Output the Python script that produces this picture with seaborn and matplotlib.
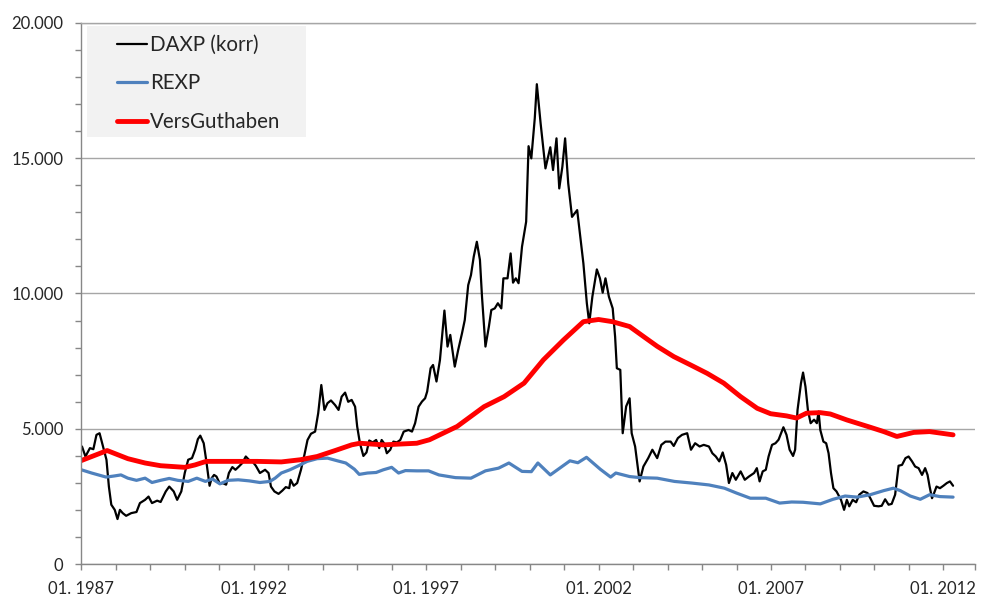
import numpy as np
import pandas as pd
import matplotlib
matplotlib.use("Agg")
import matplotlib.pyplot as plt
from matplotlib.patches import Rectangle
from matplotlib.ticker import FuncFormatter, MultipleLocator, FixedLocator
import seaborn as sns

# ── data ─────────────────────────────────────────────────────────────────────
daxp_year = [
    1987.02, 1987.12, 1987.25, 1987.35, 1987.44, 1987.53, 1987.63, 1987.73, 1987.80, 1987.87,
    1987.97, 1988.05, 1988.12, 1988.20, 1988.30, 1988.45, 1988.60, 1988.70, 1988.85, 1988.95,
    1989.05, 1989.20, 1989.30, 1989.45, 1989.55, 1989.68, 1989.78, 1989.90, 1990.00, 1990.10,
    1990.21, 1990.30, 1990.38, 1990.45, 1990.55, 1990.62, 1990.72, 1990.78, 1990.85, 1990.92,
    1991.02, 1991.10, 1991.20, 1991.28, 1991.38, 1991.47, 1991.57, 1991.67, 1991.77, 1991.86,
    1991.96, 1992.06, 1992.18, 1992.33, 1992.43, 1992.50, 1992.60, 1992.72, 1992.83, 1992.93,
    1993.03, 1993.07, 1993.16, 1993.26, 1993.37, 1993.47, 1993.56, 1993.66, 1993.78, 1993.82,
    1993.87, 1993.96, 1994.05, 1994.14, 1994.24, 1994.36, 1994.46, 1994.55, 1994.65, 1994.74,
    1994.84, 1994.94, 1995.00, 1995.08, 1995.18, 1995.27, 1995.35, 1995.45, 1995.55, 1995.64,
    1995.71, 1995.78, 1995.86, 1995.96, 1996.05, 1996.15, 1996.25, 1996.35, 1996.49, 1996.59,
    1996.68, 1996.78, 1996.88, 1996.97, 1997.03, 1997.13, 1997.20, 1997.30, 1997.40, 1997.53,
    1997.62, 1997.70, 1997.83, 1997.93, 1998.04, 1998.12, 1998.22, 1998.30, 1998.38, 1998.47,
    1998.56, 1998.62, 1998.72, 1998.82, 1998.89, 1998.99, 1999.08, 1999.18, 1999.24, 1999.36,
    1999.45, 1999.52, 1999.60, 1999.68, 1999.78, 1999.90, 1999.97, 2000.05, 2000.15, 2000.21,
    2000.32, 2000.46, 2000.60, 2000.68, 2000.78, 2000.86, 2000.95, 2001.03, 2001.12, 2001.23,
    2001.38, 2001.47, 2001.56, 2001.66, 2001.73, 2001.82, 2001.95, 2002.04, 2002.12, 2002.20,
    2002.30, 2002.41, 2002.48, 2002.53, 2002.63, 2002.70, 2002.80, 2002.90, 2002.96, 2003.06,
    2003.19, 2003.30, 2003.44, 2003.56, 2003.70, 2003.82, 2003.94, 2004.09, 2004.18, 2004.30,
    2004.42, 2004.57, 2004.68, 2004.80, 2004.93, 2005.05, 2005.20, 2005.30, 2005.40, 2005.50,
    2005.60, 2005.70, 2005.78, 2005.88, 2005.98, 2006.12, 2006.24, 2006.36, 2006.51, 2006.59,
    2006.67, 2006.76, 2006.85, 2006.93, 2007.03, 2007.13, 2007.22, 2007.36, 2007.45, 2007.54,
    2007.64, 2007.70, 2007.77, 2007.87, 2007.93, 2008.00, 2008.07, 2008.15, 2008.25, 2008.33,
    2008.38, 2008.43, 2008.52, 2008.60, 2008.67, 2008.74, 2008.81, 2008.90, 2009.03, 2009.12,
    2009.20, 2009.27, 2009.37, 2009.47, 2009.56, 2009.68, 2009.80, 2009.88, 2009.99, 2010.12,
    2010.21, 2010.31, 2010.41, 2010.50, 2010.60, 2010.70, 2010.80, 2010.90, 2010.99, 2011.09,
    2011.18, 2011.28, 2011.38, 2011.47, 2011.54, 2011.60, 2011.67, 2011.73, 2011.80, 2011.90,
    2012.00, 2012.10, 2012.19, 2012.28,
]
daxp_value = [
    4350, 3980, 4290, 4250, 4780, 4840, 4350, 3860, 2870, 2200,
    2010, 1670, 2010, 1890, 1790, 1890, 1930, 2260, 2380, 2500,
    2260, 2350, 2300, 2690, 2870, 2690, 2380, 2690, 3370, 3860,
    3920, 4230, 4620, 4750, 4470, 3860, 2900, 3180, 3300, 3240,
    2970, 3000, 2940, 3370, 3590, 3490, 3610, 3740, 3980, 3860,
    3800, 3640, 3370, 3490, 3370, 2870, 2690, 2600, 2720, 2850,
    2810, 3120, 2900, 3000, 3490, 4040, 4590, 4820, 4900, 5210,
    5580, 6620, 5700, 5950, 6050, 5880, 5700, 6190, 6340, 6000,
    6070, 5820, 5090, 4470, 4000, 4130, 4570, 4500, 4590, 4290,
    4590, 4470, 4100, 4230, 4530, 4500, 4590, 4900, 4960, 4900,
    5210, 5820, 6010, 6130, 6380, 7240, 7360, 6750, 7540, 9370,
    8040, 8470, 7300, 7920, 8530, 9020, 10310, 10680, 11360, 11910,
    11240, 9880, 8040, 8780, 9390, 9450, 9640, 9450, 10560, 10560,
    11480, 10400, 10560, 10380, 11730, 12650, 15440, 14990, 16470, 17730,
    16280, 14620, 15400, 14560, 15730, 13880, 14680, 15730, 14070, 12830,
    13080, 12100, 11110, 9640, 8900, 9880, 10890, 10560, 10030, 10560,
    9880, 9450, 8400, 7240, 7180, 4840, 5830, 6130, 4840, 4350,
    3060, 3610, 3920, 4230, 3920, 4410, 4530, 4530, 4370, 4660,
    4780, 4840, 4230, 4470, 4350, 4410, 4350, 4100, 3980, 3800,
    4130, 3670, 3000, 3370, 3120, 3430, 3120, 3240, 3370, 3550,
    3060, 3430, 3490, 3980, 4410, 4470, 4600, 5060, 4780, 4230,
    4000, 4230, 5700, 6690, 7080, 6560, 5700, 5210, 5340, 5210,
    5640, 4960, 4530, 4470, 4100, 3370, 2810, 2690, 2380, 2010,
    2380, 2140, 2380, 2290, 2570, 2690, 2630, 2440, 2160, 2140,
    2160, 2400, 2200, 2230, 2570, 3640, 3670, 3920, 3980, 3800,
    3610, 3550, 3300, 3550, 3300, 2870, 2440, 2630, 2870, 2810,
    2900, 3000, 3060, 2900,
]

rexp_year = [
    1987.00, 1987.30, 1987.72, 1987.95, 1988.15, 1988.35, 1988.60, 1988.85, 1989.05, 1989.30,
    1989.55, 1989.80, 1990.10, 1990.35, 1990.60, 1990.80, 1991.02, 1991.26, 1991.55, 1991.87,
    1992.18, 1992.47, 1992.62, 1992.80, 1993.05, 1993.30, 1993.55, 1993.84, 1994.14, 1994.43,
    1994.67, 1994.92, 1995.06, 1995.30, 1995.55, 1995.76, 1996.00, 1996.20, 1996.40, 1996.73,
    1997.07, 1997.37, 1997.85, 1998.30, 1998.72, 1999.10, 1999.40, 1999.78, 2000.05, 2000.24,
    2000.60, 2001.17, 2001.40, 2001.65, 2002.05, 2002.35, 2002.50, 2002.90, 2003.20, 2003.70,
    2004.20, 2004.70, 2005.20, 2005.65, 2006.00, 2006.40, 2006.85, 2007.25, 2007.60, 2007.93,
    2008.43, 2008.80, 2009.15, 2009.50, 2009.88, 2010.27, 2010.55, 2010.75, 2011.04, 2011.33,
    2011.60, 2011.90, 2012.28,
]
rexp_value = [
    3490, 3370, 3220, 3260, 3300, 3180, 3100, 3180, 3020, 3100,
    3170, 3100, 3060, 3180, 3060, 3150, 2970, 3100, 3120, 3080,
    3020, 3060, 3180, 3370, 3490, 3640, 3800, 3900, 3920, 3820,
    3740, 3510, 3320, 3370, 3390, 3490, 3580, 3370, 3460, 3450,
    3450, 3300, 3200, 3180, 3450, 3550, 3740, 3430, 3420, 3740,
    3300, 3820, 3750, 3950, 3510, 3220, 3370, 3240, 3200, 3180,
    3060, 3000, 2930, 2810, 2630, 2440, 2440, 2260, 2300, 2290,
    2230, 2400, 2520, 2480, 2570, 2720, 2810, 2720, 2520, 2400,
    2570, 2500, 2480,
]

vers_year = [
    1987.00, 1987.75, 1988.35, 1988.85, 1989.30, 1990.00, 1990.30, 1990.62, 1991.25, 1992.10,
    1992.80, 1993.35, 1993.84, 1994.36, 1994.84, 1995.08, 1995.76, 1996.73, 1997.10, 1997.90,
    1998.68, 1999.26, 1999.84, 2000.40, 2000.98, 2001.56, 2002.00, 2002.40, 2002.90, 2003.37,
    2003.70, 2004.18, 2004.67, 2005.15, 2005.63, 2006.12, 2006.60, 2006.99, 2007.45, 2007.74,
    2008.03, 2008.43, 2008.72, 2009.20, 2009.88, 2010.27, 2010.65, 2011.14, 2011.60, 2012.28,
]
vers_value = [
    3830, 4200, 3900, 3740, 3640, 3580, 3670, 3800, 3800, 3800,
    3780, 3860, 3980, 4200, 4410, 4470, 4410, 4470, 4600, 5090,
    5820, 6190, 6690, 7550, 8280, 8960, 9040, 8960, 8780, 8350,
    8050, 7670, 7360, 7050, 6690, 6190, 5760, 5560, 5480, 5400,
    5580, 5600, 5550, 5330, 5060, 4900, 4720, 4870, 4900, 4780,
]

series_names = ["DAXP (korr)", "REXP", "VersGuthaben"]
year_ticks = list(range(1987, 2013))
year_labels = ["01. %d" % y if (y - 1987) % 5 == 0 else "" for y in year_ticks]

# ── styling ───────────────────────────────────────────────────────────────────
sns.set_style("white")
plt.rcParams["font.family"] = ["Lato", "DejaVu Sans"]

GRID = "#A6A6A6"
AXIS = "#878787"
TEXT = "#262626"

fig = plt.figure(figsize=(9.83, 5.98), dpi=100)
ax = fig.add_axes([0.0827, 0.0564, 0.9093, 0.9056])

frames = [
    pd.DataFrame({"year": daxp_year, "value": daxp_value}),
    pd.DataFrame({"year": rexp_year, "value": rexp_value}),
    pd.DataFrame({"year": vers_year, "value": vers_value}),
]
colors = ["#000000", "#4F81BD", "#FF0000"]
widths = [1.6, 2.3, 3.5]

for df, name, c, lw in zip(frames, series_names, colors, widths):
    sns.lineplot(data=df, x="year", y="value", ax=ax, color=c, linewidth=lw,
                 label=name, estimator=None, sort=False)

# ── axes ──────────────────────────────────────────────────────────────────────
ax.set_xlim(1987, 2012.92)
ax.set_ylim(0, 20000)
ax.set_xlabel("")
ax.set_ylabel("")

ax.xaxis.set_major_locator(FixedLocator(year_ticks + [2012.92]))
ax.set_xticklabels(year_labels + [""])
ax.yaxis.set_major_locator(MultipleLocator(5000))
ax.yaxis.set_minor_locator(MultipleLocator(1000))
ax.yaxis.set_major_formatter(FuncFormatter(lambda v, _: f"{v:,.0f}".replace(",", ".")))

ax.tick_params(axis="x", which="major", direction="out", length=4, width=1,
               color=AXIS, labelsize=12, labelcolor=TEXT, pad=8, bottom=True)
ax.tick_params(axis="y", which="both", direction="out", length=4, width=1,
               color=AXIS, labelsize=12, labelcolor=TEXT, pad=9, left=True)

ax.grid(axis="y", which="major", color=GRID, linewidth=1)
ax.grid(axis="x", visible=False)
ax.set_axisbelow(True)

for side in ["left", "bottom"]:
    ax.spines[side].set_color(AXIS)
    ax.spines[side].set_linewidth(1)
ax.spines["top"].set_color(GRID)
ax.spines["top"].set_linewidth(1)
ax.spines["right"].set_visible(False)

# ── legend: grey box with wide left margin ───────────────────────────────────
ax.add_patch(Rectangle((0.0064, 0.789), 0.245, 0.205, transform=ax.transAxes,
                       facecolor="#F2F2F2", edgecolor="none", zorder=4))
leg = ax.legend(loc="upper left", bbox_to_anchor=(0.040, 0.9775), fontsize=14.8,
                frameon=False, handlelength=1.45, handletextpad=0.15,
                borderpad=0, labelspacing=0.9, borderaxespad=0)
leg.set_zorder(5)
for t in leg.get_texts():
    t.set_color(TEXT)

fig.savefig("out.png", dpi=100)
